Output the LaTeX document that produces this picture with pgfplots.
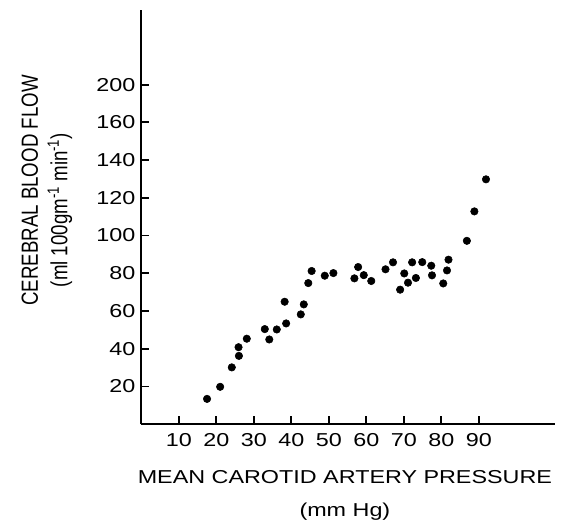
\documentclass[border=0pt]{standalone}
\usepackage{fontspec}
\setmainfont{Liberation Sans}
\newfontfamily\hfont[FakeStretch=1.25]{Liberation Sans}
\newfontfamily\vfont[FakeStretch=0.8]{Liberation Sans}
\usepackage{pgfplots}
\pgfplotsset{compat=1.18}

\pgfplotstableread{
x y
17.5 13.4
21.0 19.8
24.1 30.1
26.0 36.2
25.9 40.8
28.1 45.3
32.9 50.4
34.1 44.9
36.1 50.2
38.6 53.4
38.2 64.9
42.5 58.2
43.3 63.5
44.5 74.8
45.4 81.2
48.9 78.7
51.2 80.1
56.8 77.3
57.8 83.3
59.3 79.0
61.3 75.9
65.1 82.1
67.1 85.8
69.0 71.3
70.1 79.9
71.1 75.0
72.2 85.8
73.2 77.5
74.9 85.9
77.3 84.0
77.5 78.9
80.5 74.6
81.5 81.5
81.9 87.2
86.8 97.2
88.8 112.8
91.9 129.8
}\cbf

\begin{document}
\begin{tikzpicture}
\begin{axis}[
  scale only axis,
  width=310pt, height=310.5pt,
  xmin=0, xmax=110.3,
  ymin=0, ymax=219.6,
  axis x line*=bottom,
  axis y line*=left,
  axis line style={-, line width=1.5pt},
  tick align=inside,
  major tick length=6pt,
  tick style={line width=1.4pt, black},
  xtick={10,20,...,90},
  xticklabels={10,20,30,40,50,60,70,80,90},
  ytick={20,40,...,180},
  yticklabels={20,40,60,80,100,120,140,160,200},
  ticklabel style={font=\hfont\fontsize{14}{16}\selectfont},
  xticklabel style={yshift=-3.5pt},
  yticklabel style={xshift=-1pt},
  clip=false,
]
\addplot[only marks, mark=*, mark size=2.8pt, black] table {\cbf};
\node[rotate=90, font=\vfont\fontsize{17.5}{20}\selectfont] at (rel axis cs:-0.270,0.564) {CEREBRAL BLOOD FLOW};
\node[rotate=90, font=\vfont\fontsize{17.5}{20}\selectfont] at (rel axis cs:-0.197,0.517) {(ml 100gm\textsuperscript{-1} min\textsuperscript{-1})};
\node[font=\hfont\fontsize{14}{16}\selectfont] at (rel axis cs:0.492,-0.128) {MEAN CAROTID ARTERY PRESSURE};
\node[font=\hfont\fontsize{14}{16}\selectfont] at (rel axis cs:0.492,-0.212) {(mm Hg)};
\coordinate (bl) at (rel axis cs:-0.342,-0.234);
\coordinate (tr) at (rel axis cs:1.046,1.024);
\end{axis}
\pgfresetboundingbox
\path[use as bounding box] (bl) rectangle (tr);
\end{tikzpicture}
\end{document}
